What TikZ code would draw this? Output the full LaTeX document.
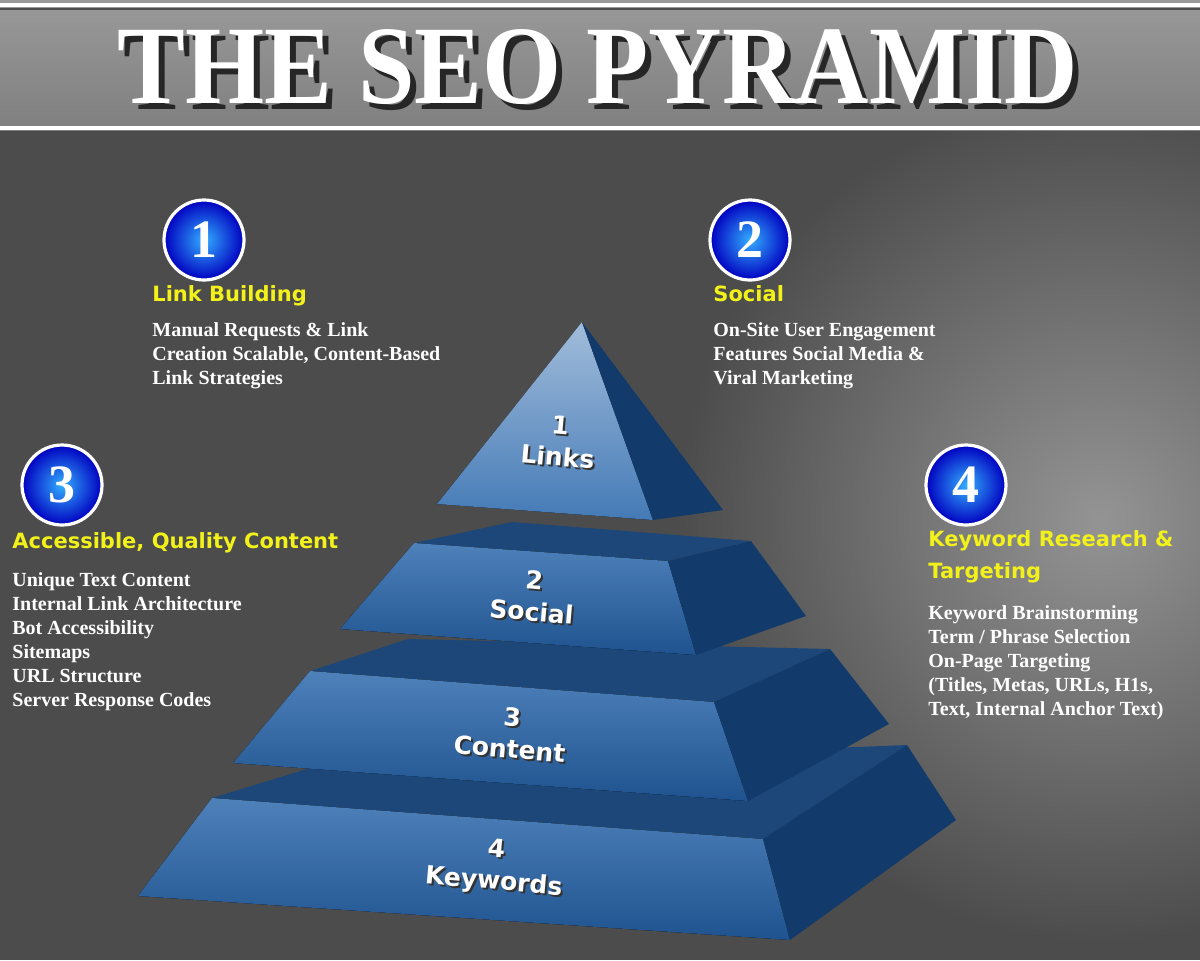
\documentclass[tikz,border=0pt]{standalone}
\usepackage{fontspec}
\setmainfont{Liberation Serif}
\newfontfamily\headf{DejaVu Sans}
\usetikzlibrary{shadings}
\definecolor{yel}{HTML}{F2F21A}
\definecolor{frontc}{HTML}{2F6BAE}
\definecolor{frontd}{HTML}{1F538F}
\definecolor{topc}{HTML}{1C4778}
\definecolor{rightc}{HTML}{123A6A}
\tikzset{
  head/.style={anchor=north west,text=yel,font=\headf\bfseries\fontsize{10.5}{16}\selectfont,align=left,inner sep=0},
  body/.style={anchor=north west,text=white,font=\bfseries\fontsize{10}{12}\selectfont,align=left,inner sep=0},
  badge/.style={circle,minimum size=40pt,inner sep=0,draw=white,line width=1.6pt,inner color=cyan!60!blue!80!white,outer color=blue!75!black,text=white,font=\bfseries\fontsize{27}{27}\selectfont},
  tier/.style={text=white,font=\headf\bfseries\fontsize{12.5}{16}\selectfont,align=center,rotate=-5},
  tiersh/.style={tier,text=black!80},
  frontface/.style={top color=frontc!85!white,bottom color=frontd},
  topface/.style={fill=topc},
  rightface/.style={fill=rightc},
}
\begin{document}
\begin{tikzpicture}[x=0.5pt,y=-0.5pt]
\useasboundingbox (0,0) rectangle (1200,960);
% background
\fill[black!70] (0,130) rectangle (1200,960);
\begin{scope}
\clip (0,130) rectangle (1200,960);
\shade[inner color=black!42,outer color=black!70] (1100,520) circle (420);
\end{scope}
\shade[top color=black!40,bottom color=black!50] (0,0) rectangle (1200,130);
\draw[white,line width=2pt] (0,5) -- (1200,5);
\draw[white,line width=2pt] (0,128) -- (1200,128);
\draw[black!70,line width=1pt] (0,9) -- (1200,9);
% title
\node[inner sep=0,text=black!85] (titlesh) at (604,73) {\resizebox{480pt}{37pt}{\bfseries THE SEO PYRAMID}};
\node[inner sep=0,text=white] (title) at (598,67) {\resizebox{480pt}{37pt}{\bfseries THE SEO PYRAMID}};
% tier 4
\fill[topface] (212,798) -- (307,769) -- (907,745) -- (763,839) -- cycle;
\fill[frontface] (212,798) -- (763,839) -- (790,940) -- (138,896) -- cycle;
\fill[rightface] (763,839) -- (907,745) -- (956,820) -- (790,940) -- cycle;
% tier 3
\fill[topface] (310,671) -- (408,639) -- (830,649) -- (714,702) -- cycle;
\fill[frontface] (310,671) -- (714,702) -- (748,801) -- (233,763) -- cycle;
\fill[rightface] (714,702) -- (830,649) -- (889,724) -- (748,801) -- cycle;
% tier 2
\fill[topface] (414,543) -- (512,522) -- (751,541) -- (668,561) -- cycle;
\fill[frontface] (414,543) -- (668,561) -- (696,655) -- (340,629) -- cycle;
\fill[rightface] (668,561) -- (751,541) -- (806,616) -- (696,655) -- cycle;
% tier 1
\fill[top color=frontc!45!white,bottom color=frontc!90!white] (582,322) -- (437,504) -- (653,520) -- cycle;
\fill[rightface] (582,322) -- (653,520) -- (723,510) -- cycle;
% tier labels
\node[tiersh] (l1s) at (561,443) {1\\Links};
\node[tier] (l1) at (559,441) {1\\Links};
\node[tiersh] (l2s) at (535,598) {2\\Social};
\node[tier] (l2) at (533,596) {2\\Social};
\node[tiersh] (l3s) at (513,735) {3\\Content};
\node[tier] (l3) at (511,733) {3\\Content};
\node[tiersh] (l4s) at (497,869) {4\\Keywords};
\node[tier] (l4) at (495,867) {4\\Keywords};
% badges
\node[badge] (b1) at (204,240) {1};
\node[badge] (b2) at (750,240) {2};
\node[badge] (b3) at (62,485) {3};
\node[badge] (b4) at (966,485) {4};
% text blocks
\node[head] (h1) at (152,285) {Link Building};
\node[body] (t1) at (152,322) {Manual Requests \& Link\\Creation Scalable, Content-Based\\Link Strategies};
\node[head] (h2) at (713,285) {Social};
\node[body] (t2) at (713,322) {On-Site User Engagement\\Features Social Media \&\\Viral Marketing};
\node[head] (h3) at (12,532) {Accessible, Quality Content};
\node[body] (t3) at (12,572) {Unique Text Content\\Internal Link Architecture\\Bot Accessibility\\Sitemaps\\URL Structure\\Server Response Codes};
\node[head] (h4) at (928,530) {Keyword Research \&\\Targeting};
\node[body] (t4) at (928,605) {Keyword Brainstorming\\Term / Phrase Selection\\On-Page Targeting\\(Titles, Metas, URLs, H1s,\\Text, Internal Anchor Text)};
\end{tikzpicture}
\end{document}
